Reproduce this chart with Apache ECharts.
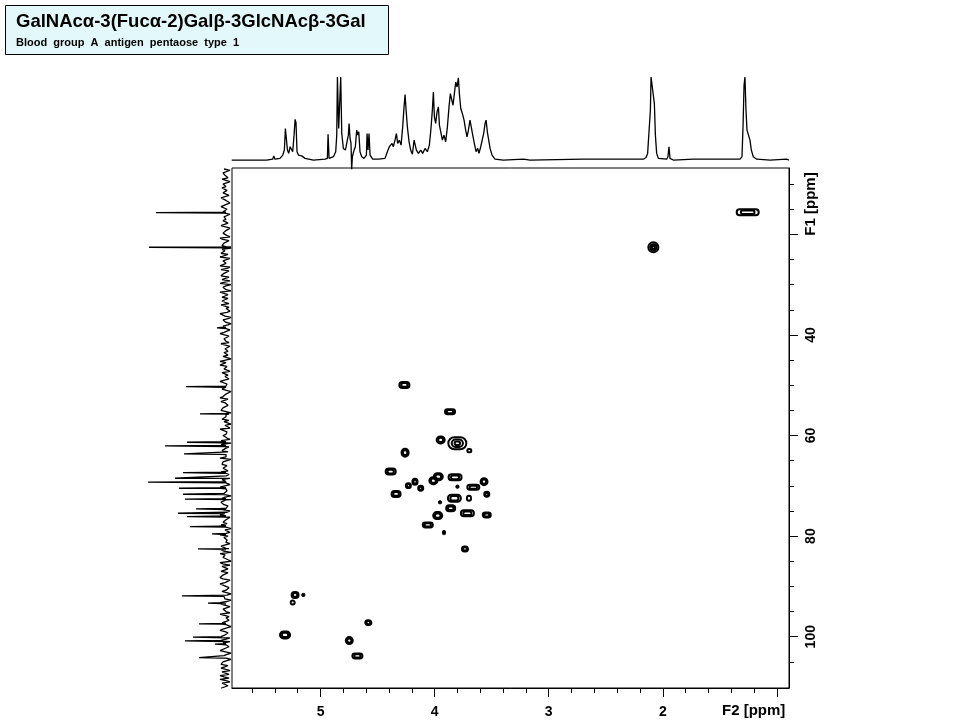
<!DOCTYPE html>
<html><head><meta charset="utf-8">
<script src="https://cdn.jsdelivr.net/npm/echarts@6/dist/echarts.min.js"></script>
<style>html,body{margin:0;padding:0;background:#fff}#c{width:960px;height:720px}</style>
</head><body><div id="c"></div>
<script>
// ---------- data ----------
const titleMain = 'GalNAcα-3(Fucα-2)Galβ-3GlcNAcβ-3Gal';
const titleSub = 'Blood  group  A  antigen  pentaose  type  1';
const f2Name = 'F2 [ppm]';
const f1Name = 'F1 [ppm]';
const f2Range = [0.894, 5.776];
const f1Range = [6.8, 110.2];
const f2MajorTicks = [1, 2, 3, 4, 5];
const f2Labels = [2, 3, 4, 5];
const f2MinorTicks = [1.2,1.4,1.6,1.8,2.2,2.4,2.6,2.8,3.2,3.4,3.6,3.8,4.2,4.4,4.6,4.8,5.2,5.4,5.6];
const f1MajorTicks = [20, 40, 60, 80, 100];
const f1Labels = [40, 60, 80, 100];
const f1MinorTicks = [10,15,25,30,35,45,50,55,65,70,75,85,90,95,105];

// 1H projection: [ppm, relative intensity]
const protonSpectrum = [
[5.778,0],[5.501,0],[5.486,0.02],[5.472,0],[5.419,0.01],[5.410,0.05],[5.399,0.01],[5.355,0.02],
[5.331,0.06],[5.317,0.12],[5.308,0.38],[5.299,0.38],[5.290,0.12],[5.279,0.08],[5.267,0.16],[5.253,0.18],
[5.244,0.10],[5.232,0.30],[5.223,0.49],[5.215,0.45],[5.206,0.10],[5.194,0.06],[5.180,0.04],[5.165,0.05],
[5.136,0.02],[5.063,0],[4.960,0.01],[4.940,0.02],[4.934,0.31],[4.925,0.02],[4.887,0.04],[4.867,0.10],
[4.858,0.30],[4.852,1.0],[4.841,0.38],[4.829,0.38],[4.823,1.0],[4.814,0.32],[4.800,0.14],[4.782,0.12],
[4.765,0.24],[4.756,0.30],[4.750,0.44],[4.741,0.26],[4.733,0.20],[4.727,-0.11],[4.721,0.04],[4.706,0.12],
[4.695,0.16],[4.683,0.36],[4.674,0.30],[4.665,0.34],[4.654,0.10],[4.639,0.04],[4.619,0.02],[4.598,0.06],
[4.592,0.32],[4.584,0.12],[4.575,0.32],[4.566,0.06],[4.543,0.01],[4.493,0.01],[4.435,0.02],[4.414,0.10],
[4.397,0.16],[4.385,0.14],[4.373,0.20],[4.362,0.16],[4.347,0.24],[4.335,0.32],[4.324,0.20],[4.309,0.24],
[4.294,0.18],[4.280,0.40],[4.268,0.64],[4.259,0.79],[4.251,0.62],[4.239,0.40],[4.224,0.22],[4.210,0.12],
[4.195,0.07],[4.180,0.24],[4.172,0.26],[4.160,0.12],[4.142,0.08],[4.122,0.12],[4.105,0.08],[4.084,0.14],
[4.064,0.10],[4.046,0.18],[4.032,0.38],[4.020,0.60],[4.011,0.82],[4.002,0.52],[3.991,0.44],[3.979,0.58],
[3.967,0.64],[3.958,0.42],[3.947,0.44],[3.932,0.24],[3.918,0.30],[3.903,0.22],[3.888,0.40],[3.874,0.64],
[3.862,0.80],[3.850,0.78],[3.839,0.66],[3.827,0.80],[3.815,0.94],[3.803,0.88],[3.792,0.99],[3.783,0.80],
[3.771,0.62],[3.757,0.56],[3.742,0.48],[3.728,0.36],[3.716,0.28],[3.704,0.36],[3.690,0.48],[3.678,0.46],
[3.666,0.30],[3.652,0.20],[3.637,0.10],[3.622,0.14],[3.611,0.08],[3.596,0.16],[3.581,0.18],[3.570,0.32],
[3.558,0.44],[3.549,0.48],[3.538,0.34],[3.526,0.24],[3.514,0.14],[3.497,0.06],[3.471,0.01],[3.398,0],
[3.222,0.01],[3.164,0],[2.697,0.01],[2.682,0],[2.258,0.01],[2.171,0.01],[2.147,0.03],[2.133,0.08],
[2.118,0.10],[2.109,0.6],[2.103,1.0],[2.089,1.0],[2.074,0.68],[2.065,0.30],[2.054,0.08],[2.039,0.02],
[1.966,0.01],[1.955,0.04],[1.946,0.16],[1.937,0.02],[1.908,0],[1.732,0.01],[1.440,0.01],[1.323,0.01],
[1.306,0.04],[1.297,0.40],[1.288,0.90],[1.280,1.0],[1.271,0.60],[1.262,0.36],[1.253,0.34],[1.245,0.38],
[1.236,0.24],[1.224,0.12],[1.207,0.04],[1.177,0.01],[1.060,0],[0.915,0.01],[0.894,0]
];

// 13C projection peaks: [ppm, height]
const carbonPeaks = [
[15.69,70],[22.56,77],[38.6,9],[50.28,40],[55.7,26],[61.33,39],[62.07,61],[63.66,42],
[67.38,43],[68.49,51],[69.28,78],[70.48,47],[71.67,43],[72.66,41],[74.59,30],[75.45,48],
[76.12,39],[78.11,36],[79.56,14],[82.54,28],[91.89,44],[93.34,18],[97.46,27],[100.1,33],
[100.83,41],[101.49,11],[104.15,27]
];
// 13C projection baseline noise: two interleaved samplings (every 0.5 ppm, offset by 0.25 ppm)
const carbonNoiseStart = 7.0;
const carbonNoiseStep = 0.5;
const carbonNoiseA = [
2,-3,5,-1,4,-4,3,0,6,-2,1,-5,4,2,-3,5,-1,3,-4,2,
0,4,-3,6,-2,1,5,-4,3,-1,2,-5,4,0,-2,6,-3,1,3,-4,
5,-1,2,-3,4,1,-5,3,0,6,-2,4,-4,1,5,-3,2,-1,4,-5,
3,0,-2,5,-4,2,6,-1,1,-3,4,-5,3,2,-2,5,-4,0,6,-3,
1,4,-2,3,-5,5,0,-1,4,-3,2,6,-4,1,-2,3,5,-5,2,0,
-3,4,1,-4,6,-2,3,-1,5,-5,2,0,4,-3,1,6,-4,2,-1,3,
-2,5,0,-4,3,1,-3,6,-1,2,-5,4,0,3,-2,5,-4,1,4,-3,
2,-1,6,-5,3,0,-2,4,1,-4,5,-3,2,6,-1,0,-5,3,4,-2,
5,-4,1,3,-3,6,0,-2,4,-5,2,1,-1,5,-4,3,0,6,-3,2,
-1,4,-5,3,1,-2,5,0,-4,6,-3,2,4,-1,1,-5,3,5,-2,0,
4,-3,2,6,-4,1,-1
];
const carbonNoiseB = [
-4,3,1,-2,6,-5,2,4,-1,3,-3,5,0,-4,2,6,-2,1,-5,4,
3,-2,5,-4,0,3,-1,6,-3,2,4,-5,1,5,-2,-4,3,0,6,-1,
-3,2,5,-1,-4,6,0,3,-5,2,1,-2,4,-3,5,0,-4,6,1,-2,
4,-5,3,1,-1,6,-3,2,0,5,-4,1,-2,4,3,-5,6,0,-1,2,
-4,5,1,-3,6,-1,2,4,-5,0,3,-2,5,1,-4,2,6,-3,0,4,
2,-5,3,6,-1,0,4,-4,2,5,-3,1,-2,6,0,-5,3,4,-1,2,
5,-3,-1,4,2,-4,6,0,-2,3,1,-5,5,2,-3,4,-1,6,-4,0,
3,5,-2,1,-4,6,2,-1,0,-3,4,5,-5,1,3,-2,6,-4,2,0,
-2,3,6,-4,1,5,-3,0,2,-1,4,-5,6,3,-2,1,-4,5,0,-3,
4,1,-3,6,-2,2,-4,5,3,-1,0,6,-5,2,4,-3,1,-2,5,-4,
2,6,-3,0,4,-2,5
];

// HSQC cross peaks: [1H ppm, 13C ppm, 1H width ppm, 13C width ppm]
const crossPeaks = [
[2.083,22.56,0.088,1.99],[1.256,15.6,0.193,1.19],[4.265,49.94,0.088,1.19],[3.865,55.25,0.088,0.99],
[3.947,60.87,0.070,1.39],[3.801,61.53,0.158,2.39],[3.696,63.0,0.035,0.6],[4.259,63.4,0.061,1.59],
[4.385,67.17,0.088,1.19],[4.23,69.96,0.044,0.99],[4.172,69.17,0.044,1.19],[4.122,70.5,0.044,0.99],
[4.011,68.97,0.070,1.39],[3.968,68.17,0.079,1.39],[3.821,68.3,0.114,1.19],[3.80,70.16,0.018,0.4],
[3.661,70.28,0.105,0.99],[3.567,69.17,0.061,1.39],[3.543,71.67,0.044,0.99],[4.338,71.61,0.079,1.19],
[3.827,72.47,0.114,1.39],[3.699,72.47,0.035,0.99],[3.953,73.27,0.018,0.4],[3.859,74.46,0.079,1.19],
[3.713,75.45,0.114,1.19],[3.543,75.79,0.070,0.99],[3.973,75.92,0.079,1.39],[4.06,77.77,0.088,0.99],
[3.918,79.3,0.018,0.6],[3.734,82.54,0.053,0.99],[5.223,91.69,0.061,1.19],[5.244,93.22,0.035,0.8],
[5.151,91.69,0.018,0.4],[4.581,97.2,0.053,0.99],[5.311,99.64,0.088,1.39],[4.748,100.77,0.061,1.39],
[4.677,103.82,0.088,0.99]
];

// ---------- build ----------
const carbonLine = [];
carbonNoiseA.forEach((v, i) => carbonLine.push([v, carbonNoiseStart + i * carbonNoiseStep]));
carbonNoiseB.forEach((v, i) => carbonLine.push([v, carbonNoiseStart + carbonNoiseStep / 2 + i * carbonNoiseStep]));
carbonPeaks.forEach(p => {
  carbonLine.push([0, p[0] - 0.12]);
  carbonLine.push([p[1], p[0]]);
  carbonLine.push([0, p[0] + 0.12]);
});
carbonLine.sort((a, b) => a[1] - b[1]);

const FONT = '"Liberation Sans", Arial, sans-serif';
const black = '#000';

const chart = echarts.init(document.getElementById('c'), null, {renderer: 'canvas'});
chart.setOption({
  animation: false,
  backgroundColor: '#fff',
  textStyle: {fontFamily: FONT},
  grid: [
    {left: 232, top: 168, width: 557, height: 520, show: true, borderColor: black, borderWidth: 1, backgroundColor: 'transparent', outerBoundsMode: 'none'},
    {left: 232, top: 77, width: 557, height: 93, outerBoundsMode: 'none'},
    {left: 145, top: 168, width: 87, height: 520, outerBoundsMode: 'none'}
  ],
  xAxis: [
    {gridIndex: 0, type: 'value', min: f2Range[0], max: f2Range[1], inverse: true, position: 'bottom',
     axisLine: {show: true, onZero: false, lineStyle: {color: black, width: 1}},
     axisTick: {show: true, customValues: f2MajorTicks, length: 9, lineStyle: {color: black, width: 1}},
     axisLabel: {show: true, customValues: f2Labels, color: black, fontWeight: 'bold', fontSize: 14, margin: 17, fontFamily: FONT},
     splitLine: {show: false}},
    {gridIndex: 0, type: 'value', min: f2Range[0], max: f2Range[1], inverse: true, position: 'bottom',
     axisLine: {show: false, onZero: false},
     axisTick: {show: true, customValues: f2MinorTicks, length: 5, lineStyle: {color: black, width: 1}},
     axisLabel: {show: false}, splitLine: {show: false}},
    {gridIndex: 1, type: 'value', min: f2Range[0], max: f2Range[1], inverse: true, show: false},
    {gridIndex: 2, type: 'value', min: -6, max: 81, inverse: true, show: false}
  ],
  yAxis: [
    {gridIndex: 0, type: 'value', min: f1Range[0], max: f1Range[1], inverse: true, position: 'right',
     axisLine: {show: true, onZero: false, lineStyle: {color: black, width: 1}},
     axisTick: {show: true, customValues: f1MajorTicks, length: 9, lineStyle: {color: black, width: 1}},
     axisLabel: {show: true, customValues: f1Labels, rotate: 90, color: black, fontWeight: 'bold', fontSize: 14, margin: 15, fontFamily: FONT},
     splitLine: {show: false}},
    {gridIndex: 0, type: 'value', min: f1Range[0], max: f1Range[1], inverse: true, position: 'right',
     axisLine: {show: false, onZero: false},
     axisTick: {show: true, customValues: f1MinorTicks, length: 5, lineStyle: {color: black, width: 1}},
     axisLabel: {show: false}, splitLine: {show: false}},
    {gridIndex: 1, type: 'value', min: -0.12, max: 1.0, show: false},
    {gridIndex: 2, type: 'value', min: f1Range[0], max: f1Range[1], inverse: true, show: false}
  ],
  series: [
    {type: 'line', xAxisIndex: 2, yAxisIndex: 2, data: protonSpectrum, showSymbol: false, symbol: 'none',
     lineStyle: {color: black, width: 1.3}, silent: true, clip: true},
    {type: 'line', xAxisIndex: 3, yAxisIndex: 3, data: carbonLine, showSymbol: false, symbol: 'none',
     lineStyle: {color: black, width: 1.3}, silent: true, clip: true},
    {type: 'custom', xAxisIndex: 0, yAxisIndex: 0, data: crossPeaks, encode: {x: 0, y: 1}, silent: true, clip: true,
     renderItem: function (params, api) {
       const c = api.coord([api.value(0), api.value(1)]);
       const s = api.size([api.value(2), api.value(3)]);
       const w = Math.abs(s[0]), h = Math.abs(s[1]);
       const children = [];
       if (w < 3 || h < 3) {
         children.push({type: 'rect', shape: {x: c[0] - w / 2 - 0.5, y: c[1] - h / 2 - 0.5, width: w + 1, height: h + 1, r: 1},
           style: {fill: black, stroke: black, lineWidth: 1}});
       } else {
         [1, 0.62, 0.3].forEach(sc => {
           const ww = w * sc, hh = h * sc;
           if (ww < 2.5 || hh < 2.5) return;
           children.push({type: 'rect', shape: {x: c[0] - ww / 2, y: c[1] - hh / 2, width: ww, height: hh, r: Math.min(ww, hh) / 2},
             style: {fill: 'none', stroke: black, lineWidth: 2}});
         });
       }
       return {type: 'group', children: children};
     }}
  ],
  graphic: [
    {type: 'rect', shape: {x: 5.5, y: 5.5, width: 383, height: 49}, style: {fill: '#e3f8fb', stroke: black, lineWidth: 1}, z: 10},
    {type: 'text', x: 16, y: 22, z: 11, style: {text: titleMain, font: 'bold 18.5px ' + FONT, fill: black, verticalAlign: 'middle'}},
    {type: 'text', x: 16, y: 43, z: 11, style: {text: titleSub, font: 'bold 11px ' + FONT, fill: black, verticalAlign: 'middle'}},
    {type: 'text', x: 722, y: 711, z: 11, style: {text: f2Name, font: 'bold 15px ' + FONT, fill: black, verticalAlign: 'middle'}},
    {type: 'text', x: 811, y: 204, rotation: Math.PI / 2, z: 11, style: {text: f1Name, font: 'bold 15px ' + FONT, fill: black, align: 'center', verticalAlign: 'middle'}}
  ]
});
</script>
</body></html>
